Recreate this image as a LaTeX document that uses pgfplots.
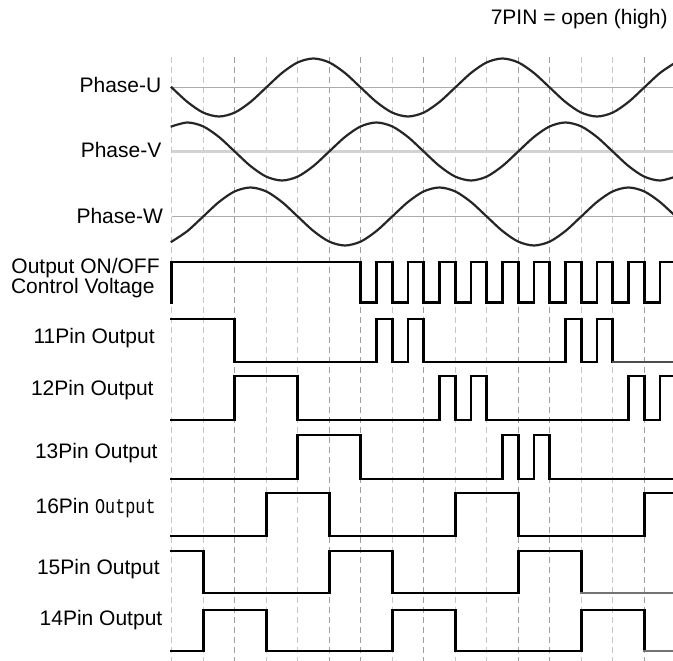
\documentclass[border=0pt]{standalone}
\usepackage{pgfplots}
\pgfplotsset{compat=1.18}
\usepackage{graphicx}
\usepackage{fontspec}
\setmainfont{Liberation Sans}
\newfontfamily\monofont{Liberation Mono}

\begin{document}
\fontsize{10.5bp}{12.6bp}\selectfont
\begin{tikzpicture}
\begin{axis}[
  x=15.75bp, y=0.5bp, y dir=reverse,
  xmin=-5.451, xmax=15.914, ymin=0, ymax=661,
  hide axis, clip mode=individual,
  every axis plot/.append style={line join=miter, line cap=rect},
  sig/.style={black, line width=1.45pt, mark=none},
  wave/.style={black!85, line width=1.1pt, mark=none, smooth},
]
% time grid
\pgfplotsinvokeforeach{0,1,3,4,7,9,10,13,14}{
  \draw[gray!45, line width=0.6pt, dash pattern=on 3bp off 2bp] (axis cs:#1,57) -- (axis cs:#1,661);
}
\pgfplotsinvokeforeach{2,5,6,8,11,12,15}{
  \draw[gray!75, line width=0.6pt, dash pattern=on 3bp off 2bp] (axis cs:#1,57) -- (axis cs:#1,661);
}
% phase centre lines
\draw[gray!65, line width=0.9pt] (axis cs:0,87.5) -- (axis cs:15.914,87.5);
\draw[gray!35, line width=2pt] (axis cs:0,151.5) -- (axis cs:15.914,151.5);
\draw[gray!65, line width=0.9pt] (axis cs:0,216.5) -- (axis cs:15.914,216.5);

% Phase-U
\addplot[wave] coordinates {(0,87.5)(0.5,102)(1,112.6)(1.5,116.5)(2,112.6)(2.5,102)(3,87.5)(3.5,73)(4,62.4)(4.5,58.5)(5,62.4)(5.5,73)(6,87.5)(6.5,102)(7,112.6)(7.5,116.5)(8,112.6)(8.5,102)(9,87.5)(9.5,73)(10,62.4)(10.5,58.5)(11,62.4)(11.5,73)(12,87.5)(12.5,102)(13,112.6)(13.5,116.5)(14,112.6)(14.5,102)(15,87.5)(15.5,73)(16,62.4)};
% Phase-V
\addplot[wave] coordinates {(0,126.4)(0.5,122.5)(1,126.4)(1.5,137)(2,151.5)(2.5,166)(3,176.6)(3.5,180.5)(4,176.6)(4.5,166)(5,151.5)(5.5,137)(6,126.4)(6.5,122.5)(7,126.4)(7.5,137)(8,151.5)(8.5,166)(9,176.6)(9.5,180.5)(10,176.6)(10.5,166)(11,151.5)(11.5,137)(12,126.4)(12.5,122.5)(13,126.4)(13.5,137)(14,151.5)(14.5,166)(15,176.6)(15.5,180.5)(16,176.6)};
% Phase-W
\addplot[wave] coordinates {(0,241.6)(0.5,231)(1,216.5)(1.5,202)(2,191.4)(2.5,187.5)(3,191.4)(3.5,202)(4,216.5)(4.5,231)(5,241.6)(5.5,245.5)(6,241.6)(6.5,231)(7,216.5)(7.5,202)(8,191.4)(8.5,187.5)(9,191.4)(9.5,202)(10,216.5)(10.5,231)(11,241.6)(11.5,245.5)(12,241.6)(12.5,231)(13,216.5)(13.5,202)(14,191.4)(14.5,187.5)(15,191.4)(15.5,202)(16,216.5)};

% Output ON/OFF control voltage
\addplot[sig] coordinates {(0,302.5)(0,262)(6,262)(6,302.5)(6.5,302.5)(6.5,262)(7,262)(7,302.5)(7.5,302.5)(7.5,262)(8,262)(8,302.5)(8.5,302.5)(8.5,262)(9,262)(9,302.5)(9.5,302.5)(9.5,262)(10,262)(10,302.5)(10.5,302.5)(10.5,262)(11,262)(11,302.5)(11.5,302.5)(11.5,262)(12,262)(12,302.5)(12.5,302.5)(12.5,262)(13,262)(13,302.5)(13.5,302.5)(13.5,262)(14,262)(14,302.5)(14.5,302.5)(14.5,262)(15,262)(15,302.5)(15.5,302.5)(15.5,262)(16,262)};
% 11Pin
\addplot[sig] coordinates {(0,319)(2,319)(2,362)(6.5,362)(6.5,319)(7,319)(7,362)(7.5,362)(7.5,319)(8,319)(8,362)(12.5,362)(12.5,319)(13,319)(13,362)(13.5,362)(13.5,319)(14,319)(14,362)};
\addplot[black!70, line width=1pt] coordinates {(14,362)(16,362)};
% 12Pin
\addplot[sig] coordinates {(0,420)(2,420)(2,376)(4,376)(4,420)(8.5,420)(8.5,376)(9,376)(9,420)(9.5,420)(9.5,376)(10,376)(10,420)(14.5,420)(14.5,376)(15,376)(15,420)(15.5,420)(15.5,376)(16,376)};
% 13Pin
\addplot[sig] coordinates {(0,479)(4,479)(4,435)(6,435)(6,479)(10.5,479)(10.5,435)(11,435)(11,479)(11.5,479)(11.5,435)(12,435)(12,479)(16,479)};
% 16Pin
\addplot[sig] coordinates {(0,536)(3,536)(3,493)(5,493)(5,536)(9,536)(9,493)(11,493)(11,536)(15,536)(15,493)(16,493)};
% 15Pin
\addplot[sig] coordinates {(0,551)(1,551)(1,593)(5,593)(5,551)(7,551)(7,593)(11,593)(11,551)(13,551)(13,593)};
\addplot[black!55, line width=1pt] coordinates {(13,593)(16,593)};
% 14Pin
\addplot[sig] coordinates {(0,651)(1,651)(1,610)(3,610)(3,651)(7,651)(7,610)(9,610)(9,651)(13,651)(13,610)(15,610)(15,651)};
\addplot[black!55, line width=1pt] coordinates {(15,651)(16,651)};

% labels
\node[anchor=base east, inner sep=0pt] at (axis cs:15.756,25) {7PIN = open (high)};
\node[anchor=base east, inner sep=0pt] at (axis cs:-0.317,92.3) {Phase-U};
\node[anchor=base east, inner sep=0pt] at (axis cs:-0.317,157.3) {Phase-V};
\node[anchor=base east, inner sep=0pt] at (axis cs:-0.267,223.3) {Phase-W};
\node[anchor=base east, inner sep=0pt] at (axis cs:-0.371,273.3) {Output ON/OFF};
\node[anchor=base east, inner sep=0pt] at (axis cs:-0.530,293.3) {Control Voltage};
\node[anchor=base east, inner sep=0pt] at (axis cs:-0.530,344) {11Pin Output};
\node[anchor=base east, inner sep=0pt] at (axis cs:-0.562,395.7) {12Pin Output};
\node[anchor=base east, inner sep=0pt] at (axis cs:-0.435,458.3) {13Pin Output};
\node[anchor=base east, inner sep=0pt] at (axis cs:-0.498,513.3) {16Pin \scalebox{0.8}[1]{\monofont Output}};
\node[anchor=base east, inner sep=0pt] at (axis cs:-0.371,575) {15Pin Output};
\node[anchor=base east, inner sep=0pt] at (axis cs:-0.286,626) {14Pin Output};
\coordinate (bl) at (rel axis cs:0,0);
\coordinate (tr) at (rel axis cs:1,1);
\end{axis}
\pgfresetboundingbox
\path[use as bounding box] (bl) rectangle (tr);
\end{tikzpicture}
\end{document}
